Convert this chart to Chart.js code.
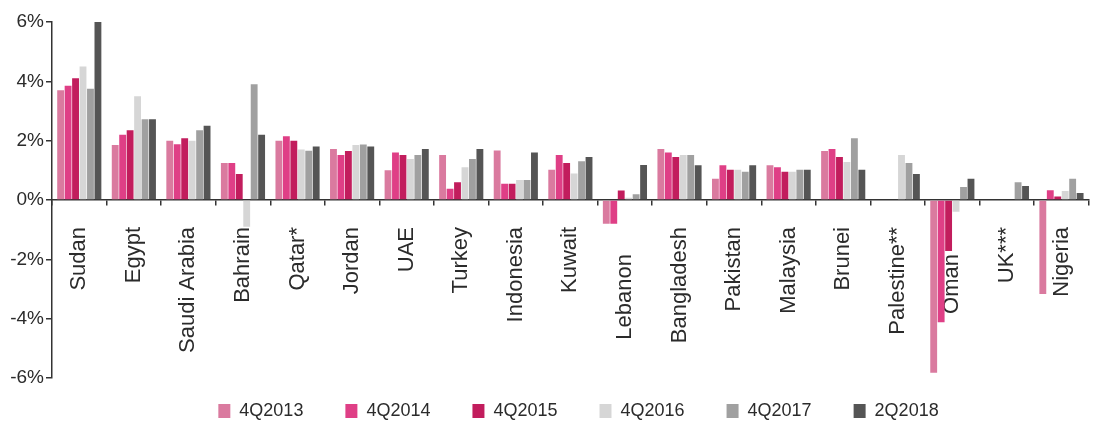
<!DOCTYPE html>
<html>
<head>
<meta charset="utf-8">
<title>Growth by country</title>
<script src="https://cdn.jsdelivr.net/npm/chart.js@4/dist/chart.umd.min.js"></script>
<style>
  html, body { margin: 0; padding: 0; background: #fff; }
  #wrap { width: 1110px; height: 430px; position: relative; }
</style>
</head>
<body>
<div id="wrap"><canvas id="growthChart"></canvas></div>
<script>
// ---------- Data ----------
const countries = ['Sudan', 'Egypt', 'Saudi Arabia', 'Bahrain', 'Qatar*', 'Jordan', 'UAE', 'Turkey', 'Indonesia',
    'Kuwait', 'Lebanon', 'Bangladesh', 'Pakistan', 'Malaysia', 'Brunei', 'Palestine**', 'Oman', 'UK***', 'Nigeria'];

const q4_2013 = [3.70, 1.85, 2.00, 1.25, 2.00, 1.72, 1.00, 1.52, 1.67, 1.02, -0.80, 1.72, 0.72, 1.17, 1.65, null, -5.82, null, -3.17];
const q4_2014 = [3.85, 2.20, 1.88, 1.25, 2.15, 1.52, 1.60, 0.38, 0.55, 1.52, -0.80, 1.60, 1.17, 1.10, 1.72, null, -4.12, null, 0.33];
const q4_2015 = [4.10, 2.35, 2.08, 0.88, 2.00, 1.65, 1.52, 0.60, 0.55, 1.25, 0.32, 1.45, 1.02, 0.95, 1.45, null, -1.72, null, 0.12];
const q4_2016 = [4.50, 3.50, 2.00, -0.90, 1.70, 1.85, 1.38, 1.10, 0.67, 0.89, 0.08, 1.52, 1.02, 0.95, 1.28, 1.52, -0.40, null, 0.30];
const q4_2017 = [3.75, 2.72, 2.35, 3.90, 1.66, 1.87, 1.52, 1.38, 0.67, 1.31, 0.19, 1.52, 0.95, 1.02, 2.08, 1.25, 0.44, 0.60, 0.72];
const q2_2018 = [6.10, 2.72, 2.50, 2.20, 1.80, 1.80, 1.72, 1.72, 1.60, 1.45, 1.18, 1.17, 1.17, 1.02, 1.02, 0.88, 0.72, 0.47, 0.24];

const periods = ['4Q2013', '4Q2014', '4Q2015', '4Q2016', '4Q2017', '2Q2018'];
const colours = ['#da7a9f', '#df3f86', '#c21d5d', '#d6d6d6', '#a0a0a0', '#555555'];
const yTicks = [-6, -4, -2, 0, 2, 4, 6];

// labels that sit lower so they clear the negative bars
const loweredLabels = ['Lebanon', 'Oman'];

const FONT = '"Liberation Sans", Arial, Helvetica, sans-serif';
const TEXT = '#2b2b2b';
const AXIS = '#333333';

// ---------- Small layout tweaks ----------
const layoutTweaks = {
    id: 'layoutTweaks',
    beforeInit(chart) {
        // legend keeps wide item spacing but only reserves a short strip
        const fit = chart.legend.fit;
        chart.legend.fit = function() {
            fit.call(this);
            this.height = 52;
        };
    },
    afterLayout(chart) {
        const lg = chart.legend;
        lg.top -= 18;
        lg.bottom = chart.height;
        lg.left += 26; lg.right += 26;
    },
    beforeDraw(chart) {
        const xs = chart.scales.x;
        const items = xs.getLabelItems();
        items.forEach((it, i) => {
            if (loweredLabels.includes(countries[i])) it.options.translation[1] += 27;
        });
    }
};

// ---------- Chart ----------
const seriesValues = [q4_2013, q4_2014, q4_2015, q4_2016, q4_2017, q2_2018];
const datasets = periods.map((p, i) => ({
    label: p,
    data: seriesValues[i],
    backgroundColor: colours[i],
    borderWidth: 0,
    categoryPercentage: 0.82,
    barPercentage: 0.92
}));

const ctx = document.getElementById('growthChart').getContext('2d');
new Chart(ctx, {
    type: 'bar',
    data: { labels: countries, datasets: datasets },
    plugins: [layoutTweaks],
    options: {
        responsive: true,
        maintainAspectRatio: false,
        animation: false,
        layout: { padding: { top: 22, right: 5, left: 0, bottom: 0 } },
        plugins: {
            tooltip: { enabled: false },
            legend: {
                position: 'bottom',
                labels: {
                    boxWidth: 12,
                    boxHeight: 14,
                    padding: 42,
                    color: TEXT,
                    font: { family: FONT, size: 18 }
                }
            }
        },
        scales: {
            x: {
                position: { y: 0 },
                afterFit: scale => { scale.height = 0; },
                border: { display: true, color: AXIS, width: 1.5 },
                grid: { display: true, drawOnChartArea: false, drawTicks: true, tickLength: 5, color: AXIS, lineWidth: 1.5, offset: true },
                ticks: {
                    autoSkip: false,
                    minRotation: 90,
                    maxRotation: 90,
                    padding: 22,
                    color: TEXT,
                    font: { family: FONT, size: 22 }
                }
            },
            y: {
                min: -6,
                max: 6,
                afterFit: scale => { scale.width = 52; },
                afterBuildTicks: scale => { scale.ticks = yTicks.map(v => ({ value: v })); },
                border: { display: true, color: AXIS, width: 1.5 },
                grid: { display: true, drawOnChartArea: false, drawTicks: true, tickLength: 6, color: AXIS, lineWidth: 1.5 },
                ticks: {
                    padding: 2,
                    color: TEXT,
                    font: { family: FONT, size: 19 },
                    callback: v => v + '%'
                }
            }
        }
    }
});
</script>
</body>
</html>
